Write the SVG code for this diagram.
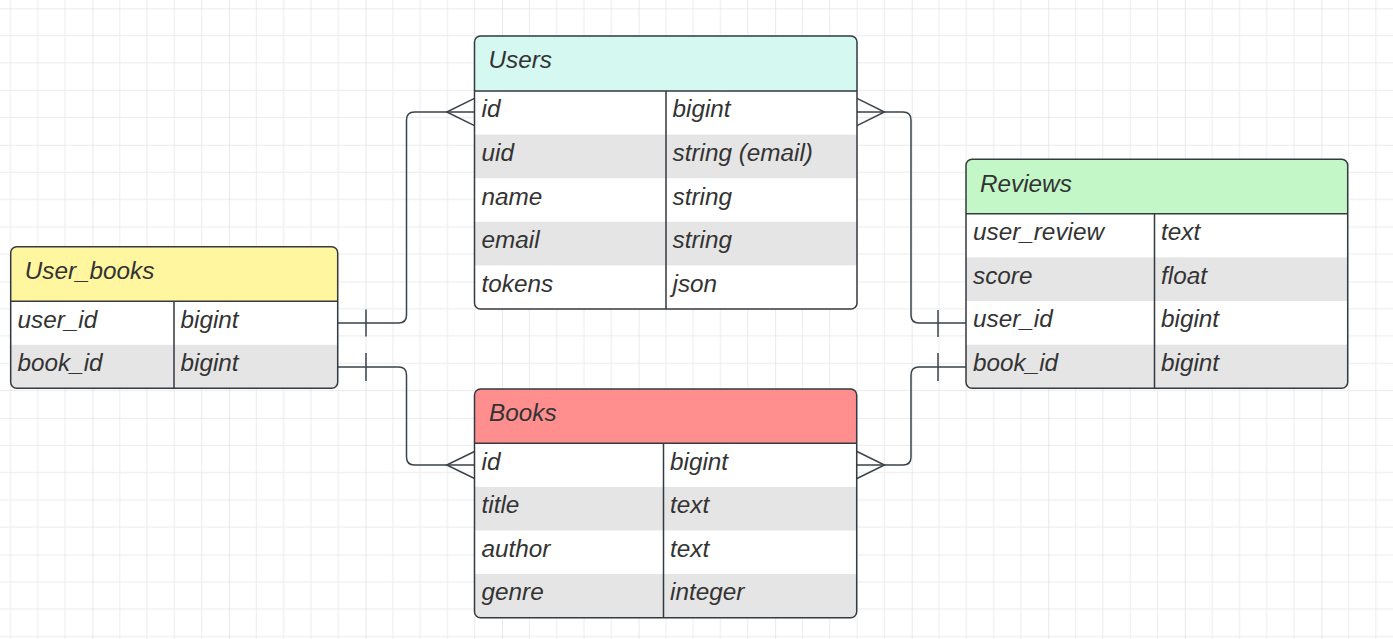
<svg xmlns="http://www.w3.org/2000/svg" width="1393" height="639" viewBox="0 0 1393 639">
<style>
.t{font-family:"Liberation Sans",Arial,sans-serif;font-style:italic;font-size:24.3px;fill:#333333}
.box{fill:none;stroke:#343a40;stroke-width:1.5}
.sep{stroke:#343a40;stroke-width:1.5;fill:none}
.gray{fill:#e5e5e5}
.conn{fill:none;stroke:#3a424c;stroke-width:1.5}
</style>
<defs>
<pattern id="grid" patternUnits="userSpaceOnUse" x="92.4" y="8.3" width="136.55" height="136.55">
<path d="M27.31 0V136.55M54.62 0V136.55M81.93 0V136.55M109.24 0V136.55M0 27.31H136.55M0 54.62H136.55M0 81.93H136.55M0 109.24H136.55" stroke="#ececec" stroke-width="1" fill="none"/>
<path d="M0 0V136.55M0 0H136.55" stroke="#dadada" stroke-width="1.2" fill="none"/>
</pattern>
<clipPath id="cUsers"><rect x="474.5" y="36" width="382.5" height="273" rx="6"/></clipPath>
<clipPath id="cUB"><rect x="10.7" y="246.7" width="327" height="141.6" rx="6"/></clipPath>
<clipPath id="cBooks"><rect x="474.5" y="389" width="382.2" height="228.7" rx="6"/></clipPath>
<clipPath id="cRev"><rect x="966" y="159.3" width="381.7" height="229" rx="6"/></clipPath>
</defs>
<rect width="1393" height="639" fill="#ffffff"/>
<rect width="1393" height="639" fill="url(#grid)"/>

<g id="connectors">
<path class="conn" d="M338 323H398.5Q406.5 323 406.5 315V120Q406.5 112 414.5 112H474.5"/>
<path class="conn" d="M474.5 98.3L446.7 112L474.5 125.7M366 309.5V336.5"/>
<path class="conn" d="M338 367H398.5Q406.5 367 406.5 375V457Q406.5 465 414.5 465H474.5"/>
<path class="conn" d="M474.5 451.5L446.7 465L474.5 478.5M366 353V381"/>
<path class="conn" d="M857 112H903Q911 112 911 120V315Q911 323 919 323H966"/>
<path class="conn" d="M857 98.3L884.5 112L857 125.7M938 310V337"/>
<path class="conn" d="M857 465H903Q911 465 911 457V375Q911 367 919 367H966"/>
<path class="conn" d="M857 451.5L884.5 465L857 478.5M938 353V381"/>
</g>

<g id="users">
<g clip-path="url(#cUsers)">
<rect x="474.5" y="36" width="382.5" height="273" fill="#ffffff"/>
<rect x="474.5" y="36" width="382.5" height="55" fill="#d5f8f1"/>
<rect class="gray" x="474.5" y="134.6" width="382.5" height="43.6"/>
<rect class="gray" x="474.5" y="221.8" width="382.5" height="43.6"/>
</g>
<path class="sep" d="M474.5 91H857M666 91V309"/>
<rect class="box" x="474.5" y="36" width="382.5" height="273" rx="6"/>
<text class="t" x="488.5" y="68.3">Users</text>
<text class="t" x="481.5" y="117.3">id</text><text class="t" x="672.5" y="117.3">bigint</text>
<text class="t" x="481.5" y="160.9">uid</text><text class="t" x="672.5" y="160.9">string (email)</text>
<text class="t" x="481.5" y="204.5">name</text><text class="t" x="672.5" y="204.5">string</text>
<text class="t" x="481.5" y="248.1">email</text><text class="t" x="672.5" y="248.1">string</text>
<text class="t" x="481.5" y="291.7">tokens</text><text class="t" x="672.5" y="291.7">json</text>
</g>

<g id="user_books">
<g clip-path="url(#cUB)">
<rect x="10.7" y="246.7" width="327" height="141.6" fill="#ffffff"/>
<rect x="10.7" y="246.7" width="327" height="54.5" fill="#fff69f"/>
<rect class="gray" x="10.7" y="344.8" width="327" height="43.6"/>
</g>
<path class="sep" d="M10.7 301.2H337.7M174 301.2V388.3"/>
<rect class="box" x="10.7" y="246.7" width="327" height="141.6" rx="6"/>
<text class="t" x="24.7" y="279.3">User_books</text>
<text class="t" x="17.5" y="327.5">user_id</text><text class="t" x="180.5" y="327.5">bigint</text>
<text class="t" x="17.5" y="371.2">book_id</text><text class="t" x="180.5" y="371.2">bigint</text>
</g>

<g id="books">
<g clip-path="url(#cBooks)">
<rect x="474.5" y="389" width="382.2" height="228.7" fill="#ffffff"/>
<rect x="474.5" y="389" width="382.2" height="54.3" fill="#ff8f8f"/>
<rect class="gray" x="474.5" y="486.9" width="382.2" height="43.6"/>
<rect class="gray" x="474.5" y="574.1" width="382.2" height="43.6"/>
</g>
<path class="sep" d="M474.5 443.3H856.7M663.5 443.3V617.7"/>
<rect class="box" x="474.5" y="389" width="382.2" height="228.7" rx="6"/>
<text class="t" x="489" y="421.3">Books</text>
<text class="t" x="481.5" y="469.6">id</text><text class="t" x="670" y="469.6">bigint</text>
<text class="t" x="481.5" y="513.2">title</text><text class="t" x="670" y="513.2">text</text>
<text class="t" x="481.5" y="556.8">author</text><text class="t" x="670" y="556.8">text</text>
<text class="t" x="481.5" y="600.4">genre</text><text class="t" x="670" y="600.4">integer</text>
</g>

<g id="reviews">
<g clip-path="url(#cRev)">
<rect x="966" y="159.3" width="381.7" height="229" fill="#ffffff"/>
<rect x="966" y="159.3" width="381.7" height="54.5" fill="#c3f7c8"/>
<rect class="gray" x="966" y="257.4" width="381.7" height="43.6"/>
<rect class="gray" x="966" y="344.7" width="381.7" height="43.6"/>
</g>
<path class="sep" d="M966 213.8H1347.7M1154.5 213.8V388.3"/>
<rect class="box" x="966" y="159.3" width="381.7" height="229" rx="6"/>
<text class="t" x="980" y="191.7">Reviews</text>
<text class="t" x="973" y="240.1">user_review</text><text class="t" x="1161" y="240.1">text</text>
<text class="t" x="973" y="283.7">score</text><text class="t" x="1161" y="283.7">float</text>
<text class="t" x="973" y="327.3">user_id</text><text class="t" x="1161" y="327.3">bigint</text>
<text class="t" x="973" y="371">book_id</text><text class="t" x="1161" y="371">bigint</text>
</g>
</svg>
